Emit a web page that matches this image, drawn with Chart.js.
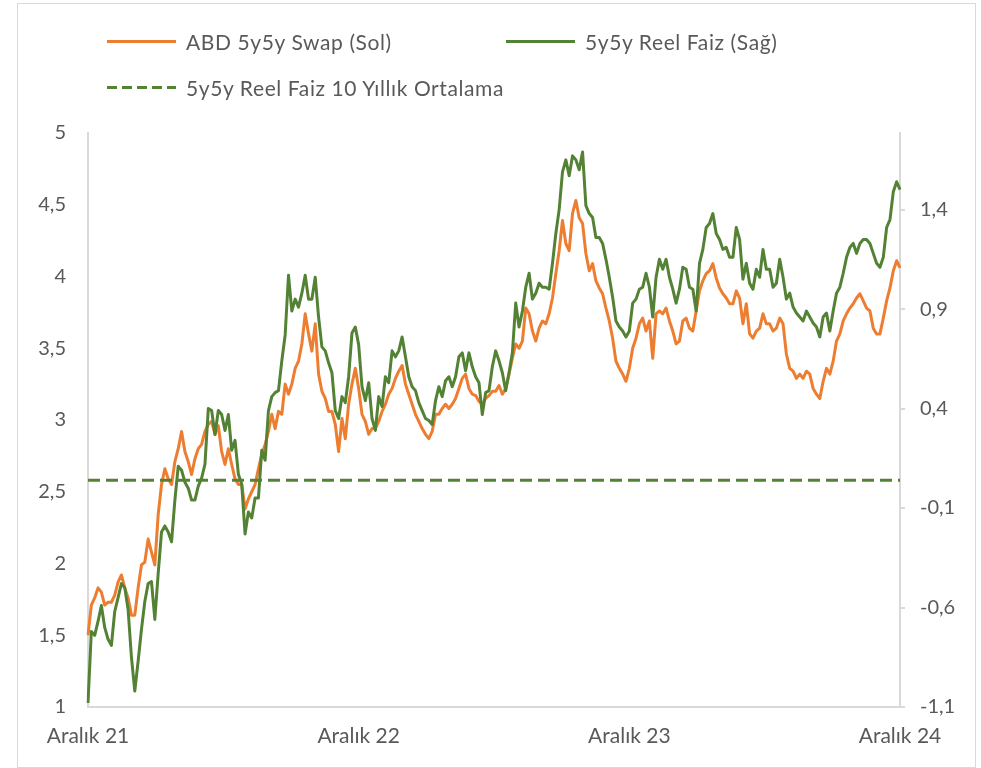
<!DOCTYPE html>
<html>
<head>
<meta charset="utf-8">
<title>ABD 5y5y Swap ve 5y5y Reel Faiz</title>
<script src="https://cdn.jsdelivr.net/npm/chart.js"></script>
<style>
    html, body { margin: 0; padding: 0; background: #fff; }
    #wrap { position: relative; width: 981px; height: 768px; }
    #frame { position: absolute; left: 17px; top: 3px; width: 957px; height: 763px; border: 1px solid #d9d9d9; pointer-events: none; }
    #legend { position: absolute; left: 107px; top: 28px; display: grid; grid-template-columns: 399px auto; row-gap: 19px;
              font-family: Lato, sans-serif; font-size: 21px; letter-spacing: 0.6px; color: #595959; }
    #legend .item { display: flex; align-items: center; height: 27px; white-space: nowrap; }
    #legend .swatch { width: 69px; height: 3px; margin-right: 10px; }
</style>
</head>
<body>
<div id="wrap">
    <canvas id="myChart" width="981" height="768"></canvas>
    <div id="legend"></div>
    <div id="frame"></div>
</div>
<script>
// x ekseni etiketleri (indeks -> etiket)
var xTickIndex = [0, 81, 162, 243];
var xTickLabels = ['Aralık 21', 'Aralık 22', 'Aralık 23', 'Aralık 24'];

var leftTicks = [1, 1.5, 2, 2.5, 3, 3.5, 4, 4.5, 5];
var rightTicks = [-1.1, -0.6, -0.1, 0.4, 0.9, 1.4];

// ABD 5y5y Swap (Sol)
var swap = [
    1.50, 1.71, 1.76, 1.83, 1.80, 1.71, 1.73, 1.73, 1.78, 1.87,
    1.92, 1.83, 1.76, 1.64, 1.64, 1.83, 1.99, 2.01, 2.17, 2.08,
    1.99, 2.34, 2.55, 2.66, 2.59, 2.55, 2.71, 2.80, 2.92, 2.78,
    2.71, 2.62, 2.73, 2.80, 2.83, 2.92, 2.97, 2.99, 2.90, 2.96,
    2.78, 2.69, 2.80, 2.69, 2.59, 2.55, 2.55, 2.38, 2.45, 2.50,
    2.55, 2.66, 2.76, 2.83, 2.92, 3.04, 2.94, 3.06, 3.04, 3.25,
    3.18, 3.25, 3.36, 3.41, 3.53, 3.74, 3.60, 3.48, 3.67, 3.32,
    3.20, 3.15, 3.06, 3.06, 2.97, 2.78, 3.01, 2.87, 3.11, 3.25,
    3.36, 3.22, 3.04, 2.99, 2.90, 2.94, 2.94, 2.99, 3.06, 3.11,
    3.18, 3.22, 3.29, 3.34, 3.38, 3.25, 3.18, 3.11, 3.04, 2.99,
    2.94, 2.90, 2.87, 2.92, 3.04, 3.04, 3.08, 3.11, 3.08, 3.11,
    3.15, 3.22, 3.29, 3.32, 3.22, 3.18, 3.17, 3.13, 3.11, 3.15,
    3.17, 3.20, 3.20, 3.24, 3.18, 3.22, 3.32, 3.43, 3.53, 3.50,
    3.55, 3.78, 3.74, 3.62, 3.55, 3.64, 3.69, 3.67, 3.74, 3.85,
    4.02, 4.18, 4.39, 4.23, 4.18, 4.44, 4.53, 4.41, 4.37, 4.16,
    4.04, 4.09, 3.97, 3.92, 3.88, 3.78, 3.69, 3.57, 3.41, 3.36,
    3.32, 3.27, 3.36, 3.50, 3.57, 3.67, 3.71, 3.62, 3.69, 3.43,
    3.74, 3.76, 3.74, 3.78, 3.69, 3.62, 3.53, 3.55, 3.69, 3.71,
    3.64, 3.62, 3.76, 3.90, 3.97, 4.02, 4.04, 4.09, 3.99, 3.92,
    3.88, 3.85, 3.81, 3.81, 3.90, 3.85, 3.67, 3.81, 3.60, 3.57,
    3.62, 3.64, 3.74, 3.67, 3.67, 3.62, 3.64, 3.71, 3.67, 3.46,
    3.36, 3.34, 3.29, 3.32, 3.29, 3.34, 3.32, 3.22, 3.18, 3.15,
    3.27, 3.36, 3.32, 3.41, 3.55, 3.60, 3.69, 3.74, 3.78, 3.81,
    3.85, 3.88, 3.83, 3.78, 3.76, 3.64, 3.60, 3.60, 3.71, 3.83,
    3.92, 4.04, 4.11, 4.06
];

// 5y5y Reel Faiz (Sağ)
var realRate = [
    -1.08, -0.72, -0.74, -0.67, -0.59, -0.70, -0.76, -0.79, -0.62, -0.55,
    -0.48, -0.50, -0.61, -0.85, -1.02, -0.87, -0.71, -0.57, -0.48, -0.47,
    -0.66, -0.43, -0.22, -0.19, -0.22, -0.27, -0.06, 0.11, 0.09, 0.03,
    0.00, -0.06, -0.06, 0.01, 0.05, 0.12, 0.40, 0.39, 0.27, 0.39,
    0.37, 0.29, 0.37, 0.19, 0.24, 0.07, 0.02, -0.23, -0.12, -0.15,
    -0.05, -0.05, 0.19, 0.14, 0.39, 0.46, 0.48, 0.49, 0.64, 0.77,
    1.07, 0.89, 0.95, 0.91, 0.98, 1.07, 0.95, 0.95, 1.06, 0.86,
    0.71, 0.69, 0.63, 0.58, 0.39, 0.35, 0.46, 0.43, 0.56, 0.78,
    0.81, 0.72, 0.51, 0.44, 0.53, 0.35, 0.29, 0.46, 0.41, 0.56,
    0.53, 0.69, 0.66, 0.69, 0.76, 0.66, 0.56, 0.51, 0.49, 0.43,
    0.39, 0.35, 0.34, 0.32, 0.44, 0.51, 0.46, 0.54, 0.56, 0.51,
    0.56, 0.66, 0.68, 0.59, 0.68, 0.61, 0.56, 0.53, 0.37, 0.48,
    0.49, 0.61, 0.69, 0.64, 0.58, 0.49, 0.58, 0.68, 0.93, 0.81,
    0.89, 1.01, 1.08, 0.95, 0.98, 1.03, 1.01, 1.01, 1.00, 1.13,
    1.28, 1.40, 1.59, 1.65, 1.57, 1.67, 1.65, 1.60, 1.69, 1.42,
    1.38, 1.36, 1.26, 1.26, 1.23, 1.15, 1.06, 0.96, 0.84, 0.81,
    0.79, 0.76, 0.79, 0.93, 0.95, 1.00, 1.01, 1.08, 1.01, 0.86,
    1.06, 1.15, 1.10, 1.15, 1.06, 1.00, 0.93, 1.00, 1.11, 1.10,
    1.01, 1.00, 0.89, 1.13, 1.20, 1.31, 1.33, 1.38, 1.28, 1.25,
    1.20, 1.21, 1.16, 1.16, 1.31, 1.25, 1.05, 1.13, 1.03, 1.00,
    1.10, 1.06, 1.20, 1.10, 1.10, 1.01, 1.03, 1.15, 1.06, 0.95,
    0.98, 0.91, 0.88, 0.86, 0.84, 0.89, 0.86, 0.83, 0.81, 0.76,
    0.86, 0.88, 0.79, 0.89, 0.98, 1.01, 1.08, 1.16, 1.21, 1.23,
    1.18, 1.23, 1.25, 1.25, 1.23, 1.18, 1.13, 1.11, 1.16, 1.31,
    1.35, 1.49, 1.54, 1.50
];

// 5y5y Reel Faiz 10 Yıllık Ortalama (Sağ)
var realAvg10y = 0.04;

var orange = '#ED7D31';
var green = '#548235';

var labels = swap.map(function (v, i) { return i; });

var dataSets = [
    { label: '5y5y Reel Faiz 10 Yıllık Ortalama', data: labels.map(function () { return realAvg10y; }),
      yAxisID: 'y1', borderColor: green, borderWidth: 3, borderDash: [12, 6], order: 0 },
    { label: '5y5y Reel Faiz (Sağ)', data: realRate, yAxisID: 'y1', borderColor: green, borderWidth: 3, order: 1 },
    { label: 'ABD 5y5y Swap (Sol)', data: swap, yAxisID: 'y', borderColor: orange, borderWidth: 3, order: 2 }
];

// legend (html)
var legendItems = [
    { text: 'ABD 5y5y Swap (Sol)', bg: orange },
    { text: '5y5y Reel Faiz (Sağ)', bg: green },
    { text: '5y5y Reel Faiz 10 Yıllık Ortalama', bg: 'repeating-linear-gradient(to right, ' + green + ' 0 10px, transparent 10px 15px)' }
];
var legendEl = document.getElementById('legend');
legendItems.forEach(function (it) {
    var d = document.createElement('div');
    d.className = 'item';
    var s = document.createElement('span');
    s.className = 'swatch';
    s.style.background = it.bg;
    var t = document.createElement('span');
    t.textContent = it.text;
    d.appendChild(s);
    d.appendChild(t);
    legendEl.appendChild(d);
});

function comma(v) { return String(Math.round(v * 10) / 10).replace('.', ','); }

Chart.defaults.font.family = 'Lato, sans-serif';
Chart.defaults.font.size = 20;
Chart.defaults.color = '#595959';

const config = {
    type: 'line',
    data: { labels: labels, datasets: dataSets },
    options: {
        responsive: false,
        animation: false,
        layout: { padding: { top: 133, left: 0, right: 0, bottom: 0 } },
        elements: {
            point: { radius: 0 },
            line: { tension: 0, fill: false, borderJoinStyle: 'round', borderCapStyle: 'butt' }
        },
        plugins: { legend: { display: false }, tooltip: { enabled: false } },
        scales: {
            x: {
                type: 'category',
                offset: false,
                grid: { display: false, drawTicks: false },
                border: { display: true, color: '#d9d9d9', width: 2 },
                ticks: {
                    autoSkip: false, maxRotation: 0, padding: 17, font: { size: 21 },
                    callback: function (v) { return xTickLabels[xTickIndex.indexOf(v)]; }
                },
                afterBuildTicks: function (s) { s.ticks = xTickIndex.map(function (v) { return { value: v }; }); },
                afterFit: function (s) { s.height = 61; }
            },
            y: {
                position: 'left',
                min: 1, max: 5,
                grid: { display: false, drawTicks: false },
                border: { display: true, color: '#d9d9d9', width: 2 },
                ticks: { padding: 22, callback: function (v) { return comma(v); } },
                afterBuildTicks: function (s) { s.ticks = leftTicks.map(function (v) { return { value: v }; }); },
                afterFit: function (s) { s.width = 88; }
            },
            y1: {
                position: 'right',
                min: -1.1, max: 1.785,
                grid: { display: true, drawOnChartArea: false, drawTicks: true, tickLength: 5, color: '#d9d9d9', lineWidth: 2 },
                border: { display: true, color: '#d9d9d9', width: 2 },
                ticks: { padding: 15, callback: function (v) { return comma(v); } },
                afterBuildTicks: function (s) { s.ticks = rightTicks.map(function (v) { return { value: v }; }); },
                afterFit: function (s) { s.width = 81; }
            }
        }
    }
};
const myChart = new Chart(document.getElementById('myChart'), config);
</script>
</body>
</html>
